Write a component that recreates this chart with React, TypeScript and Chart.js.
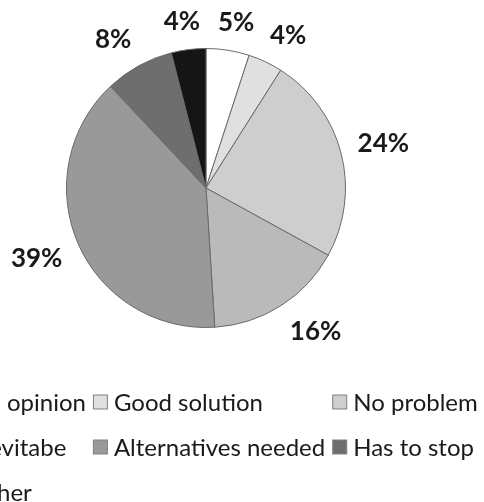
import React, { useEffect, useRef } from "react";
import { Chart, registerables } from "chart.js";

Chart.register(...registerables);

const categories = [
  "No opinion",
  "Good solution",
  "No problem",
  "Inevitabe",
  "Alternatives needed",
  "Has to stop",
  "Other",
];
const shares = [5, 4, 24, 16, 39, 8, 4];
const sliceColors = ["#ffffff", "#e0e0e0", "#cecece", "#bababa", "#999999", "#6e6e6e", "#151515"];
const percentLabels = shares.map((v) => v + "%");

const LABEL_FONT = "bold 26px Lato";
const LEGEND_FONT = "24px Lato";

const outsideLabels = {
  id: "outsideLabels",
  afterDatasetsDraw(chart: any) {
    const ctx = chart.ctx;
    const meta = chart.getDatasetMeta(0);
    ctx.save();
    ctx.font = LABEL_FONT;
    ctx.fillStyle = "#1a1a1a";
    ctx.textAlign = "center";
    ctx.textBaseline = "middle";
    const gap = 17;
    const k = 2;
    meta.data.forEach((arc: any, i: number) => {
      const p = arc.getProps(["x", "y", "startAngle", "endAngle", "outerRadius"], true);
      const mid = (p.startAngle + p.endAngle) / 2;
      const text = percentLabels[i];
      const hw = ctx.measureText(text).width / 2;
      const hh = 11;
      const c = Math.cos(mid);
      const s = Math.sin(mid);
      const ax = p.x + c * (p.outerRadius + gap);
      const ay = p.y + s * (p.outerRadius + gap);
      const ox = Math.sign(c) * Math.min(1, Math.abs(c) * k) * hw;
      const oy = Math.sign(s) * Math.min(1, Math.abs(s) * k) * hh;
      ctx.fillText(text, ax + ox, ay + oy);
    });
    ctx.restore();
  },
};

const gridLegend = {
  id: "gridLegend",
  afterDraw(chart: any) {
    const ctx = chart.ctx;
    ctx.save();
    ctx.font = LEGEND_FONT;
    const cols = 3;
    const box = 15;
    const boxGap = 6;
    const colGap = 7;
    const rowTop = 402;
    const rowStep = 45;
    const centerX = 213;
    const widths = categories.map((t) => ctx.measureText(t).width);
    const colW: number[] = [];
    for (let c = 0; c < cols; c++) {
      let m = 0;
      for (let i = c; i < categories.length; i += cols) m = Math.max(m, widths[i]);
      colW.push(box + boxGap + m + colGap);
    }
    const total = colW.reduce((a, b) => a + b, 0) - colGap;
    const startX = centerX - total / 2;
    ctx.textBaseline = "middle";
    ctx.textAlign = "left";
    categories.forEach((label, i) => {
      const col = i % cols;
      const row = Math.floor(i / cols);
      let x = startX;
      for (let q = 0; q < col; q++) x += colW[q];
      const y = rowTop + row * rowStep;
      ctx.fillStyle = sliceColors[i];
      ctx.fillRect(x + 0.5, y - box / 2 + 0.5, box - 1, box - 1);
      ctx.strokeStyle = "#808080";
      ctx.lineWidth = 1;
      ctx.strokeRect(x + 0.5, y - box / 2 + 0.5, box - 1, box - 1);
      ctx.fillStyle = "#1a1a1a";
      ctx.fillText(label, x + box + boxGap, y + 1);
    });
    ctx.restore();
  },
};

export default function App() {
  const ref = useRef<HTMLCanvasElement | null>(null);
  useEffect(() => {
    document.body.style.margin = "0";
    if (!ref.current) return;
    const chart = new Chart(ref.current, {
      type: "pie",
      data: {
        labels: categories,
        datasets: [
          {
            data: shares,
            backgroundColor: sliceColors,
            borderColor: "#6a6a6a",
            borderWidth: 1,
          },
        ],
      },
      options: {
        animation: false,
        responsive: true,
        maintainAspectRatio: false,
        layout: { padding: { left: 66, right: 138, top: 47, bottom: 173 } },
        plugins: {
          legend: { display: false },
          tooltip: { enabled: false },
        },
      },
      plugins: [outsideLabels, gridLegend],
    });
    return () => chart.destroy();
  }, []);
  return (
    <div style={{ position: "fixed", left: 0, top: 0, width: 484, height: 502, background: "#ffffff" }}>
      <canvas ref={ref} />
    </div>
  );
}
